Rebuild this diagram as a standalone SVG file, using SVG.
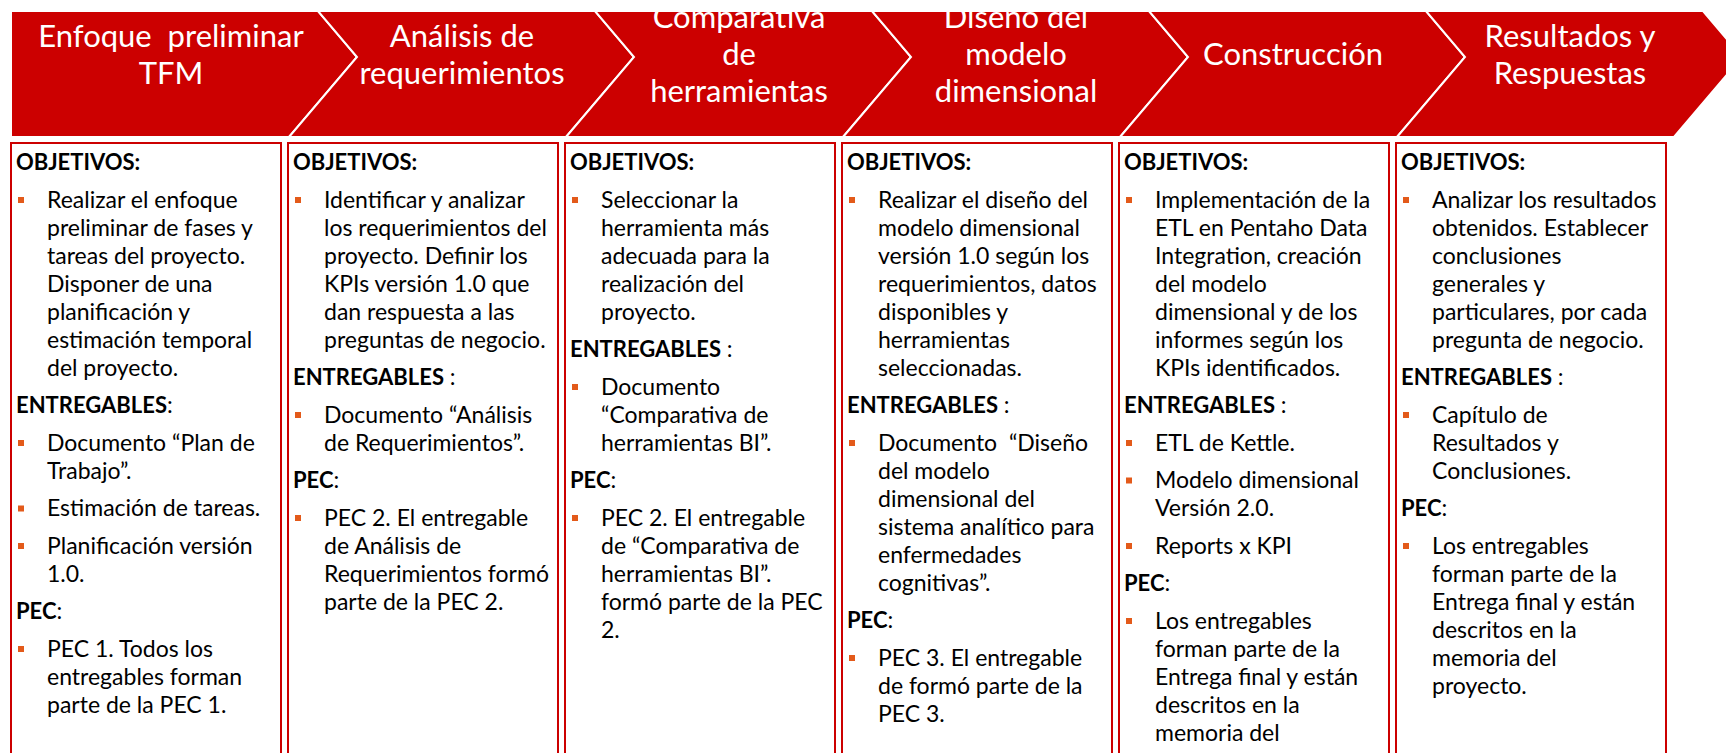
<svg xmlns="http://www.w3.org/2000/svg" width="1726" height="753" viewBox="0 0 1726 753">
<style>
.seg{fill:#CC0000;stroke:#FFFFFF;stroke-width:2;stroke-linejoin:miter}
.ht{font-family:Lato,"Liberation Sans",sans-serif;font-size:31px;fill:#FFFFFF;text-anchor:middle}
.box{fill:#FFFFFF;stroke:#CC0000;stroke-width:2}
.t{font-family:Lato,"Liberation Sans",sans-serif;font-size:23px;fill:#000000}
.h{font-weight:bold;font-size:22px}
.bu{fill:#E35A1A}
</style>
<defs>
<clipPath id="bandClip"><rect x="0" y="11" width="1726" height="130"/></clipPath>
<rect id="bul" width="6" height="6" class="bu"/>
</defs>
<rect width="1726" height="753" fill="#FFFFFF"/>

<g id="header" clip-path="url(#bandClip)">
 <g id="phase1-header">
  <polygon class="seg" points="11,11 318,11 357,57 289,137 11,137"/>
  <text class="ht" x="171" y="46.5" xml:space="preserve">Enfoque  preliminar</text>
  <text class="ht" x="171" y="83.5">TFM</text>
 </g>
 <g id="phase2-header">
  <polygon class="seg" points="318,11 595,11 634,57 566,137 289,137 357,57"/>
  <text class="ht" x="462" y="46.5">Análisis de</text>
  <text class="ht" x="462" y="83.5">requerimientos</text>
 </g>
 <g id="phase3-header">
  <polygon class="seg" points="595,11 872,11 911,57 843,137 566,137 634,57"/>
  <text class="ht" x="739" y="28">Comparativa</text>
  <text class="ht" x="739" y="65">de</text>
  <text class="ht" x="739" y="102">herramientas</text>
 </g>
 <g id="phase4-header">
  <polygon class="seg" points="872,11 1149,11 1188,57 1120,137 843,137 911,57"/>
  <text class="ht" x="1016" y="28">Diseño del</text>
  <text class="ht" x="1016" y="65">modelo</text>
  <text class="ht" x="1016" y="102">dimensional</text>
 </g>
 <g id="phase5-header">
  <polygon class="seg" points="1149,11 1426,11 1465,57 1397,137 1120,137 1188,57"/>
  <text class="ht" x="1293" y="65">Construcción</text>
 </g>
 <g id="phase6-header">
  <polygon class="seg" points="1426,11 1703,11 1742,57 1674,137 1397,137 1465,57"/>
  <text class="ht" x="1570" y="46.5">Resultados y</text>
  <text class="ht" x="1570" y="83.5">Respuestas</text>
 </g>
</g>

<g id="connectors"></g>

<g id="phase1-box">
 <rect class="box" x="11" y="143" width="270" height="700"/>
 <g class="t">
  <text class="h" x="16" y="170">OBJETIVOS:</text>
  <use href="#bul" x="18" y="197"/>
  <text x="47" y="207.5">Realizar el enfoque</text>
  <text x="47" y="235.5">preliminar de fases y</text>
  <text x="47" y="263.5">tareas del proyecto.</text>
  <text x="47" y="291.5">Disponer de una</text>
  <text x="47" y="319.5">planificación y</text>
  <text x="47" y="347.5">estimación temporal</text>
  <text x="47" y="375.5">del proyecto.</text>
  <text x="16" y="413"><tspan class="h">ENTREGABLES</tspan>:</text>
  <use href="#bul" x="18" y="440"/>
  <text x="47" y="450.5">Documento “Plan de</text>
  <text x="47" y="478.5">Trabajo”.</text>
  <use href="#bul" x="18" y="505.5"/>
  <text x="47" y="516">Estimación de tareas.</text>
  <use href="#bul" x="18" y="543"/>
  <text x="47" y="553.5">Planificación versión</text>
  <text x="47" y="581.5">1.0.</text>
  <text x="16" y="619"><tspan class="h">PEC</tspan>:</text>
  <use href="#bul" x="18" y="646"/>
  <text x="47" y="656.5">PEC 1. Todos los</text>
  <text x="47" y="684.5">entregables forman</text>
  <text x="47" y="712.5">parte de la PEC 1.</text>
 </g>
</g>

<g id="phase2-box">
 <rect class="box" x="288" y="143" width="270" height="700"/>
 <g class="t">
  <text class="h" x="293" y="170">OBJETIVOS:</text>
  <use href="#bul" x="295" y="197"/>
  <text x="324" y="207.5">Identificar y analizar</text>
  <text x="324" y="235.5">los requerimientos del</text>
  <text x="324" y="263.5">proyecto. Definir los</text>
  <text x="324" y="291.5">KPIs versión 1.0 que</text>
  <text x="324" y="319.5">dan respuesta a las</text>
  <text x="324" y="347.5">preguntas de negocio.</text>
  <text x="293" y="385"><tspan class="h">ENTREGABLES</tspan> :</text>
  <use href="#bul" x="295" y="412"/>
  <text x="324" y="422.5">Documento “Análisis</text>
  <text x="324" y="450.5">de Requerimientos”.</text>
  <text x="293" y="488"><tspan class="h">PEC</tspan>:</text>
  <use href="#bul" x="295" y="515"/>
  <text x="324" y="525.5">PEC 2. El entregable</text>
  <text x="324" y="553.5">de Análisis de</text>
  <text x="324" y="581.5">Requerimientos formó</text>
  <text x="324" y="609.5">parte de la PEC 2.</text>
 </g>
</g>

<g id="phase3-box">
 <rect class="box" x="565" y="143" width="270" height="700"/>
 <g class="t">
  <text class="h" x="570" y="170">OBJETIVOS:</text>
  <use href="#bul" x="572" y="197"/>
  <text x="601" y="207.5">Seleccionar la</text>
  <text x="601" y="235.5">herramienta más</text>
  <text x="601" y="263.5">adecuada para la</text>
  <text x="601" y="291.5">realización del</text>
  <text x="601" y="319.5">proyecto.</text>
  <text x="570" y="357"><tspan class="h">ENTREGABLES</tspan> :</text>
  <use href="#bul" x="572" y="384"/>
  <text x="601" y="394.5">Documento</text>
  <text x="601" y="422.5">“Comparativa de</text>
  <text x="601" y="450.5">herramientas BI”.</text>
  <text x="570" y="488"><tspan class="h">PEC</tspan>:</text>
  <use href="#bul" x="572" y="515"/>
  <text x="601" y="525.5">PEC 2. El entregable</text>
  <text x="601" y="553.5">de “Comparativa de</text>
  <text x="601" y="581.5">herramientas BI”.</text>
  <text x="601" y="609.5">formó parte de la PEC</text>
  <text x="601" y="637.5">2.</text>
 </g>
</g>

<g id="phase4-box">
 <rect class="box" x="842" y="143" width="270" height="700"/>
 <g class="t">
  <text class="h" x="847" y="170">OBJETIVOS:</text>
  <use href="#bul" x="849" y="197"/>
  <text x="878" y="207.5">Realizar el diseño del</text>
  <text x="878" y="235.5">modelo dimensional</text>
  <text x="878" y="263.5">versión 1.0 según los</text>
  <text x="878" y="291.5">requerimientos, datos</text>
  <text x="878" y="319.5">disponibles y</text>
  <text x="878" y="347.5">herramientas</text>
  <text x="878" y="375.5">seleccionadas.</text>
  <text x="847" y="413"><tspan class="h">ENTREGABLES</tspan> :</text>
  <use href="#bul" x="849" y="440"/>
  <text x="878" y="450.5" xml:space="preserve">Documento  “Diseño</text>
  <text x="878" y="478.5">del modelo</text>
  <text x="878" y="506.5">dimensional del</text>
  <text x="878" y="534.5">sistema analítico para</text>
  <text x="878" y="562.5">enfermedades</text>
  <text x="878" y="590.5">cognitivas”.</text>
  <text x="847" y="628"><tspan class="h">PEC</tspan>:</text>
  <use href="#bul" x="849" y="655"/>
  <text x="878" y="665.5">PEC 3. El entregable</text>
  <text x="878" y="693.5">de formó parte de la</text>
  <text x="878" y="721.5">PEC 3.</text>
 </g>
</g>

<g id="phase5-box">
 <rect class="box" x="1119" y="143" width="270" height="700"/>
 <g class="t">
  <text class="h" x="1124" y="170">OBJETIVOS:</text>
  <use href="#bul" x="1126" y="197"/>
  <text x="1155" y="207.5">Implementación de la</text>
  <text x="1155" y="235.5">ETL en Pentaho Data</text>
  <text x="1155" y="263.5">Integration, creación</text>
  <text x="1155" y="291.5">del modelo</text>
  <text x="1155" y="319.5">dimensional y de los</text>
  <text x="1155" y="347.5">informes según los</text>
  <text x="1155" y="375.5">KPIs identificados.</text>
  <text x="1124" y="413"><tspan class="h">ENTREGABLES</tspan> :</text>
  <use href="#bul" x="1126" y="440"/>
  <text x="1155" y="450.5">ETL de Kettle.</text>
  <use href="#bul" x="1126" y="477.5"/>
  <text x="1155" y="488">Modelo dimensional</text>
  <text x="1155" y="516">Versión 2.0.</text>
  <use href="#bul" x="1126" y="543"/>
  <text x="1155" y="553.5">Reports x KPI</text>
  <text x="1124" y="591"><tspan class="h">PEC</tspan>:</text>
  <use href="#bul" x="1126" y="618"/>
  <text x="1155" y="628.5">Los entregables</text>
  <text x="1155" y="656.5">forman parte de la</text>
  <text x="1155" y="684.5">Entrega final y están</text>
  <text x="1155" y="712.5">descritos en la</text>
  <text x="1155" y="740.5">memoria del</text>
 </g>
</g>

<g id="phase6-box">
 <rect class="box" x="1396" y="143" width="270" height="700"/>
 <g class="t">
  <text class="h" x="1401" y="170">OBJETIVOS:</text>
  <use href="#bul" x="1403" y="197"/>
  <text x="1432" y="207.5">Analizar los resultados</text>
  <text x="1432" y="235.5">obtenidos. Establecer</text>
  <text x="1432" y="263.5">conclusiones</text>
  <text x="1432" y="291.5">generales y</text>
  <text x="1432" y="319.5">particulares, por cada</text>
  <text x="1432" y="347.5">pregunta de negocio.</text>
  <text x="1401" y="385"><tspan class="h">ENTREGABLES</tspan> :</text>
  <use href="#bul" x="1403" y="412"/>
  <text x="1432" y="422.5">Capítulo de</text>
  <text x="1432" y="450.5">Resultados y</text>
  <text x="1432" y="478.5">Conclusiones.</text>
  <text x="1401" y="516"><tspan class="h">PEC</tspan>:</text>
  <use href="#bul" x="1403" y="543"/>
  <text x="1432" y="553.5">Los entregables</text>
  <text x="1432" y="581.5">forman parte de la</text>
  <text x="1432" y="609.5">Entrega final y están</text>
  <text x="1432" y="637.5">descritos en la</text>
  <text x="1432" y="665.5">memoria del</text>
  <text x="1432" y="693.5">proyecto.</text>
 </g>
</g>
</svg>
